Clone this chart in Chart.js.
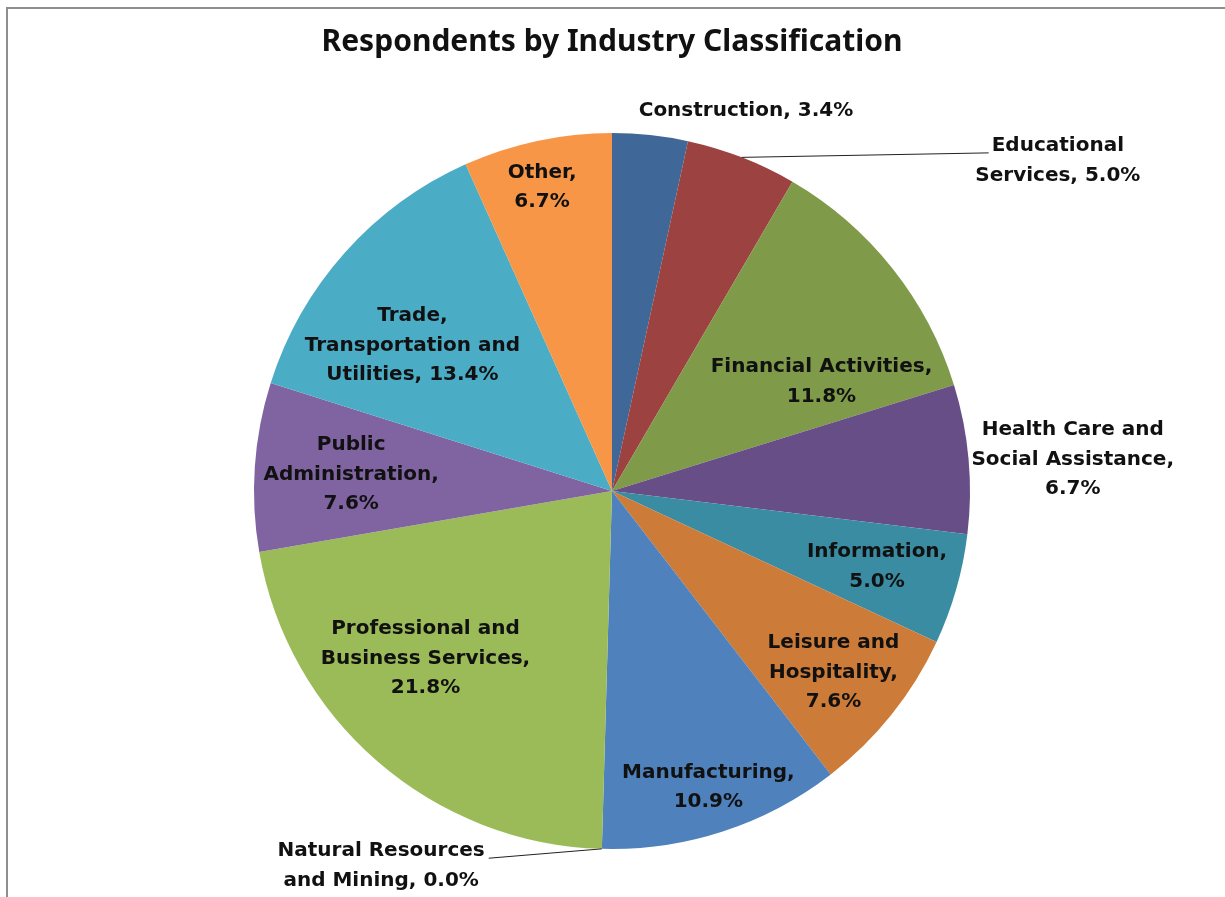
<!DOCTYPE html>
<html lang="en">
<head>
    <meta charset="UTF-8">
    <title>Respondents by Industry Classification</title>
    <script src="https://cdn.jsdelivr.net/npm/chart.js"></script>
    <style>
        html, body { margin: 0; padding: 0; background: #fff; }
        #wrap { width: 1225px; height: 897px; position: relative; }
    </style>
</head>
<body>
    <div id="wrap"><canvas id="industryChart" width="1225" height="897"></canvas></div>

    <script>
        // data
        const categories = [
            'Construction', 'Educational Services', 'Financial Activities',
            'Health Care and Social Assistance', 'Information', 'Leisure and Hospitality',
            'Manufacturing', 'Natural Resources and Mining', 'Professional and Business Services',
            'Public Administration', 'Trade, Transportation and Utilities', 'Other'
        ];
        const shares = [3.4, 5.0, 11.8, 6.7, 5.0, 7.6, 10.9, 0.0, 21.8, 7.6, 13.4, 6.7];

        // label text, '|' = line break, '#' = value
        const labelTemplates = [
            'Construction, #', 'Educational|Services, #', 'Financial Activities,|#',
            'Health Care and|Social Assistance,|#', 'Information,|#', 'Leisure and|Hospitality,|#',
            'Manufacturing,|#', 'Natural Resources|and Mining, #', 'Professional and|Business Services,|#',
            'Public|Administration,|#', 'Trade,|Transportation and|Utilities, #', 'Other,|#'
        ];

        const sliceColors = [
            '#3F6797', '#9C4240', '#7F9A48', '#684E86', '#3A8CA3', '#CC7B38',
            '#4F81BD', '#C0504D', '#9BBB59', '#8064A2', '#4BACC6', '#F79646'
        ];

        // label placement: [radius factor, angle shift (deg), leader line]
        const labelPlacement = [
            [1.125, 13.3, false], [1.55, 32.2, true], [0.66, 10.9, false],
            [1.29, 1.2, false], [0.77, 0, false], [0.80, 0.7, false],
            [0.87, 0, false], [1.23, 30, true], [0.70, 7.2, false],
            [0.73, -0.3, false], [0.69, -5.6, false], [0.87, -0.9, false]
        ];

        const labelFont = 'bold 20px "DejaVu Sans"';
        const lineHeight = 29.5;

        const frame = {
            id: 'frame',
            beforeDraw(chart) {
                const ctx = chart.ctx;
                ctx.save();
                ctx.fillStyle = '#fff';
                ctx.fillRect(0, 0, chart.width, chart.height);
                ctx.strokeStyle = '#8e8e8e';
                ctx.lineWidth = 2;
                ctx.strokeRect(7, 8, chart.width + 20, chart.height + 20);
                ctx.restore();
            }
        };

        const sliceLabels = {
            id: 'sliceLabels',
            afterDatasetsDraw(chart) {
                const ctx = chart.ctx;
                const arcs = chart.getDatasetMeta(0).data;
                ctx.save();
                ctx.font = labelFont;
                ctx.fillStyle = '#111';
                ctx.textAlign = 'center';
                ctx.textBaseline = 'middle';
                arcs.forEach((arc, i) => {
                    const p = arc.getProps(['x', 'y', 'startAngle', 'endAngle', 'outerRadius'], true);
                    const mid = (p.startAngle + p.endAngle) / 2;
                    const [f, shift, leader] = labelPlacement[i];
                    const a = mid + shift * Math.PI / 180;
                    const cx = p.x + Math.cos(a) * p.outerRadius * f;
                    const cy = p.y + Math.sin(a) * p.outerRadius * f;
                    const lines = labelTemplates[i].replace('#', shares[i].toFixed(1) + '%').split('|');
                    const top = cy - (lines.length - 1) * lineHeight / 2;
                    lines.forEach((t, k) => ctx.fillText(t, cx, top + k * lineHeight));

                    if (leader) {
                        const sx = p.x + Math.cos(mid) * p.outerRadius;
                        const sy = p.y + Math.sin(mid) * p.outerRadius;
                        const w = ctx.measureText(lines[0]).width;
                        const ex = cx > sx ? cx - w / 2 - 3 : cx + w / 2 + 4;
                        const ey = top + 7;
                        ctx.strokeStyle = '#222';
                        ctx.lineWidth = 1;
                        ctx.beginPath();
                        ctx.moveTo(sx, sy);
                        ctx.lineTo(ex, ey);
                        ctx.stroke();
                    }
                });
                ctx.restore();
            }
        };

        new Chart(document.getElementById('industryChart'), {
            type: 'pie',
            data: {
                labels: categories,
                datasets: [{
                    data: shares,
                    backgroundColor: sliceColors,
                    borderWidth: 0
                }]
            },
            options: {
                responsive: false,
                animation: false,
                layout: { padding: { left: 254, right: 255, top: 0, bottom: 48 } },
                plugins: {
                    legend: { display: false },
                    tooltip: { enabled: false },
                    title: {
                        display: true,
                        text: 'Respondents by Industry Classification',
                        color: '#111',
                        font: { family: '"Noto Sans"', size: 30, weight: 'bold', lineHeight: 1.2 },
                        padding: { top: 24, bottom: 73 }
                    }
                }
            },
            plugins: [frame, sliceLabels]
        });
    </script>
</body>
</html>
